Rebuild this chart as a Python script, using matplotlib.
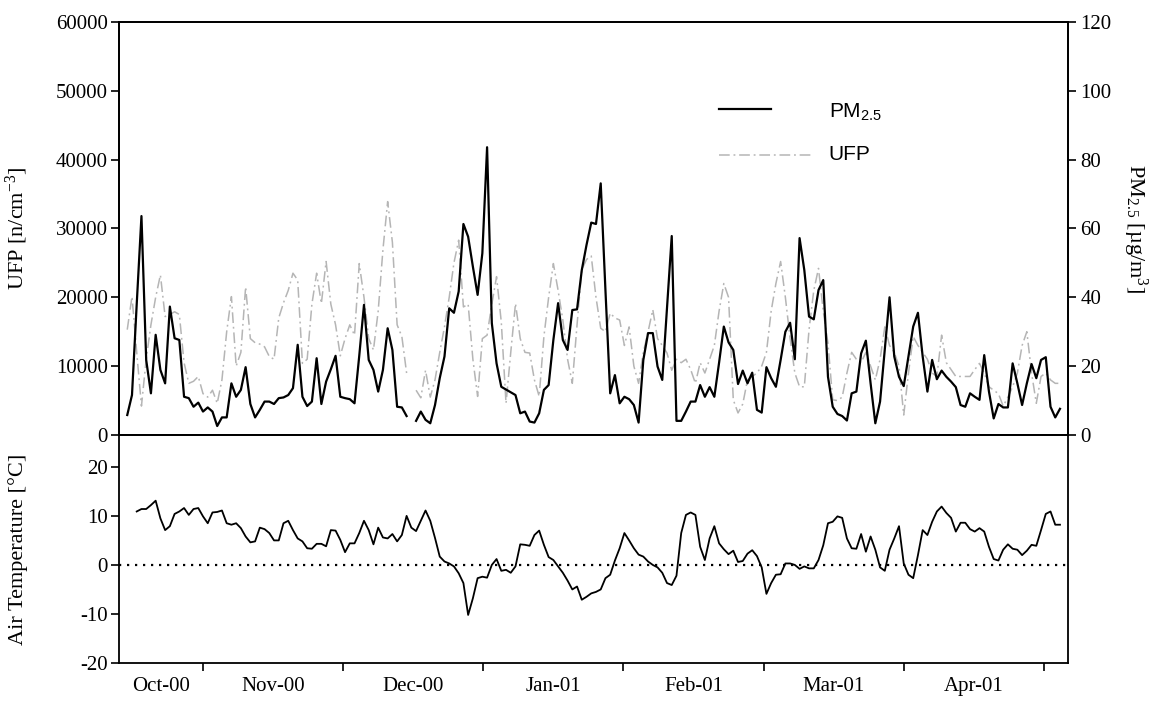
import matplotlib.pyplot as plt
import numpy as np

plt.rcParams['font.family'] = ['Liberation Serif', 'DejaVu Serif']
plt.rcParams['mathtext.default'] = 'regular'
plt.rcParams['axes.unicode_minus'] = False

nan = np.nan

# daily PM2.5 [ug/m3]
pm25 = [
    5.8, 11.6, 38.0, 63.6, 21.8, 12.1, 29.1, 18.9, 15.0, 37.3,
    28.1, 27.6, 11.1, 10.7, 8.2, 9.4, 6.8, 8.0, 6.8, 2.6,
    5.1, 5.1, 15.0, 11.1, 13.1, 19.7, 9.0, 5.1, 7.3, 9.7,
    9.7, 9.0, 10.7, 10.9, 11.6, 13.6, 26.2, 11.1, 8.4, 9.7,
    22.3, 9.0, 15.5, 19.1, 23.0, 11.1, 10.7, 10.4, 9.2, 23.0,
    37.8, 21.8, 18.9, 12.6, 18.9, 31.0, 24.7, 8.2, 8.0, 5.5,
    nan, 4.1, 6.8, 4.4, 3.4, 8.7, 16.5, 22.8, 36.8, 35.5,
    41.7, 61.3, 57.6, 48.9, 40.7, 52.8, 83.6, 32.5, 20.8, 14.0,
    13.2, 12.4, 11.6, 6.3, 6.8, 3.9, 3.6, 6.3, 13.1, 14.5,
    27.6, 38.3, 27.6, 24.7, 36.3, 36.5, 47.9, 55.2, 61.7, 61.3,
    73.1, 42.0, 12.1, 17.4, 9.2, 11.1, 10.4, 8.7, 3.6, 21.8,
    29.6, 29.6, 19.9, 16.0, 37.0, 57.8, 4.1, 4.1, 6.8, 9.7,
    9.7, 14.5, 11.1, 13.9, 11.1, 21.0, 31.5, 26.9, 24.7, 14.8,
    18.7, 15.0, 18.1, 7.3, 6.5, 19.7, 16.5, 14.0, 21.8, 30.0,
    32.6, 22.0, 57.2, 47.9, 34.4, 33.6, 42.1, 45.0, 16.9, 8.2,
    6.1, 5.5, 4.2, 12.1, 12.6, 23.7, 27.4, 15.0, 3.4, 9.7,
    25.0, 40.0, 22.8, 16.9, 14.2, 22.8, 31.5, 35.5, 22.8, 12.6,
    21.8, 16.2, 18.7, 16.9, 15.5, 13.9, 8.7, 8.2, 12.1, 11.1,
    10.2, 23.2, 12.6, 4.8, 9.0, 8.0, 8.0, 20.8, 15.0, 8.7,
    15.0, 20.6, 16.5, 21.8, 22.6, 8.2, 5.1, 7.6,
]

# daily ultrafine particle number [n/cm3]
ufp = [
    15300, 20100, 12000, 4200, 11000, 16000, 20000, 23250, 17200, 17500,
    17900, 17500, 10500, 7500, 7800, 8500, 6000, 5500, 6500, 4600,
    8000, 15000, 20100, 10000, 12000, 21500, 14000, 13400, 13200, 12800,
    11400, 11000, 17000, 19200, 21000, 23500, 22500, 10400, 11000, 19000,
    23500, 19100, 25200, 19000, 16000, 11500, 14000, 16000, 14500, 24900,
    20000, 14000, 12350, 18000, 26900, 33900, 28000, 16000, 14300, 9000,
    nan, 6500, 5400, 9400, 5500, 8000, 12000, 15700, 20000, 25000,
    28300, 18600, 19000, 11000, 5600, 14000, 14500, 19000, 23000, 16400,
    4600, 12000, 19100, 14000, 12000, 11900, 8000, 5600, 14300, 20000,
    24900, 21000, 16700, 11000, 7500, 16000, 24000, 25500, 26000, 20000,
    15500, 15000, 17700, 17000, 16700, 13000, 15700, 10000, 7500, 12000,
    15000, 18200, 14000, 13000, 11900, 9400, 11000, 10500, 11000, 9500,
    7500, 10500, 9000, 11000, 13000, 18000, 22000, 20000, 5100, 3200,
    4500, 8000, 8500, 9000, 10000, 12000, 18000, 22000, 25200, 20000,
    14000, 9000, 7000, 7000, 15300, 21000, 24200, 18000, 13300, 5100,
    5000, 5500, 9000, 12000, 11000, 10500, 12000, 10000, 8000, 11000,
    15700, 13000, 12000, 10000, 2900, 9000, 14300, 13000, 12000, 11000,
    9000, 8500, 14500, 10500, 9500, 8500, 8500, 8500, 8500, 9500,
    10400, 9000, 7000, 6500, 6000, 4200, 5500, 7000, 9000, 13000,
    15000, 9000, 4600, 8500, 9000, 8000, 7500, 7500,
]

# daily mean air temperature [degC]
air_temp = [
    nan, nan, 10.9, 11.4, 11.4, 12.2, 13.1, 9.5, 7.1, 7.9,
    10.4, 10.9, 11.6, 10.2, 11.4, 11.6, 9.9, 8.5, 10.7, 10.8,
    11.1, 8.5, 8.2, 8.5, 7.5, 5.8, 4.6, 4.8, 7.6, 7.3,
    6.5, 5.0, 5.0, 8.5, 9.0, 7.1, 5.4, 4.8, 3.4, 3.3,
    4.3, 4.3, 3.8, 7.1, 7.0, 5.1, 2.6, 4.4, 4.4, 6.5,
    9.0, 7.1, 4.2, 7.6, 5.6, 5.4, 6.3, 4.8, 6.1, 10.0,
    7.6, 6.9, 9.0, 11.1, 9.0, 5.5, 1.7, 0.7, 0.3, -0.3,
    -1.7, -3.7, -10.2, -6.8, -2.7, -2.4, -2.6, 0.0, 1.2, -1.2,
    -1.0, -1.6, -0.3, 4.2, 4.1, 3.9, 6.1, 7.0, 4.1, 1.6,
    1.0, -0.3, -1.6, -3.2, -5.0, -4.4, -7.1, -6.5, -5.8, -5.5,
    -5.0, -2.7, -2.0, 0.9, 3.4, 6.5, 5.0, 3.4, 2.1, 1.7,
    0.7, 0.0, -0.5, -1.6, -3.7, -4.1, -2.2, 6.5, 10.2, 10.7,
    10.2, 3.7, 1.0, 5.4, 7.9, 4.4, 3.2, 2.2, 2.9, 0.6,
    0.8, 2.3, 3.0, 1.8, -0.5, -5.9, -3.7, -2.0, -1.9, 0.3,
    0.3, 0.0, -0.8, -0.3, -0.7, -0.7, 1.0, 4.0, 8.5, 8.8,
    9.9, 9.6, 5.4, 3.4, 3.3, 6.3, 2.7, 5.8, 3.1, -0.5,
    -1.2, 3.1, 5.4, 7.9, 0.3, -2.0, -2.7, 2.0, 7.1, 6.1,
    8.8, 10.9, 11.9, 10.6, 9.6, 6.8, 8.6, 8.6, 7.3, 6.8,
    7.5, 6.8, 3.7, 1.2, 0.9, 3.1, 4.2, 3.3, 3.1, 2.0,
    2.9, 4.1, 3.9, 7.1, 10.4, 10.9, 8.2, 8.2,
]

days = np.arange(len(pm25))

# month separators (day index) and the month names shown between them
month_edges = [16.0, 45.6, 75.2, 104.8, 134.4, 164.0, 193.6]
month_labels = ['Oct-00', 'Nov-00', 'Dec-00', 'Jan-01', 'Feb-01', 'Mar-01', 'Apr-01']
x_min, x_max = -1.75, 198.7

fig = plt.figure(figsize=(11.55, 7.01), dpi=100)
ax1 = fig.add_axes([0.1030, 0.3795, 0.8217, 0.5892])
ax3 = fig.add_axes([0.1030, 0.0542, 0.8217, 0.3253])
ax2 = ax1.twinx()

# --- top panel: UFP (left) and PM2.5 (right)
ufp_style = dict(color='#b5b5b5', lw=1.1, linestyle=(0, (7, 2.5, 1.2, 2.5)))
ax1.plot(days, ufp, **ufp_style)
ax2.plot(days, pm25, color='black', lw=1.6)

ax1.set_xlim(x_min, x_max)
ax2.set_xlim(x_min, x_max)
ax1.set_ylim(0, 60000)
ax2.set_ylim(0, 120)
ax1.set_yticks(np.arange(0, 60001, 10000))
ax2.set_yticks(np.arange(0, 121, 20))
ax1.tick_params(axis='x', bottom=False, labelbottom=False)
ax1.tick_params(axis='y', direction='out', length=6, width=1.2, labelsize=15, pad=2)
ax2.tick_params(axis='y', direction='out', length=6, width=1.2, labelsize=15, pad=3)

ax1.set_ylabel('UFP [n/cm$^{-3}$]', fontsize=16)
ax1.yaxis.set_label_coords(-0.094, 0.5)
ax2.set_ylabel('PM$_{2.5}$ [µg/m$^{3}$]', fontsize=16, rotation=270, va='bottom')
ax2.yaxis.set_label_coords(1.056, 0.5)

# legend keys
ax2.plot([0.632, 0.687], [0.789, 0.789], transform=ax2.transAxes,
         color='black', lw=1.6)
ax2.plot([0.632, 0.731], [0.678, 0.678], transform=ax2.transAxes, **ufp_style)
ax2.text(0.748, 0.782, 'PM$_{2.5}$', transform=ax2.transAxes, va='center',
         fontsize=15, family='Liberation Sans')
ax2.text(0.748, 0.678, 'UFP', transform=ax2.transAxes, va='center',
         fontsize=15, family='Liberation Sans')

# --- bottom panel: air temperature
ax3.plot(days, air_temp, color='black', lw=1.3)
ax3.axhline(0, color='black', lw=1.6, linestyle=(0, (1, 2.6)))
ax3.set_xlim(x_min, x_max)
ax3.set_ylim(-20, 26.5)
ax3.set_yticks([-20, -10, 0, 10, 20])
ax3.tick_params(axis='y', direction='out', length=6, width=1.2, labelsize=15, pad=2)
ax3.set_ylabel('Air Temperature [°C]', fontsize=16)
ax3.yaxis.set_label_coords(-0.096, 0.5)

label_pos = [(x_min + month_edges[0]) / 2]
label_pos += [(a + b) / 2 for a, b in zip(month_edges[:-1], month_edges[1:])]
ax3.set_xticks(month_edges)
ax3.set_xticklabels([])
ax3.set_xticks(label_pos, minor=True)
ax3.set_xticklabels(month_labels, minor=True)
ax3.tick_params(axis='x', which='major', direction='out', length=6, width=1.2)
ax3.tick_params(axis='x', which='minor', length=0, labelsize=15, pad=10)

for ax in (ax1, ax2, ax3):
    for sp in ax.spines.values():
        sp.set_linewidth(1.3)

fig.savefig('out.png', dpi=100)
